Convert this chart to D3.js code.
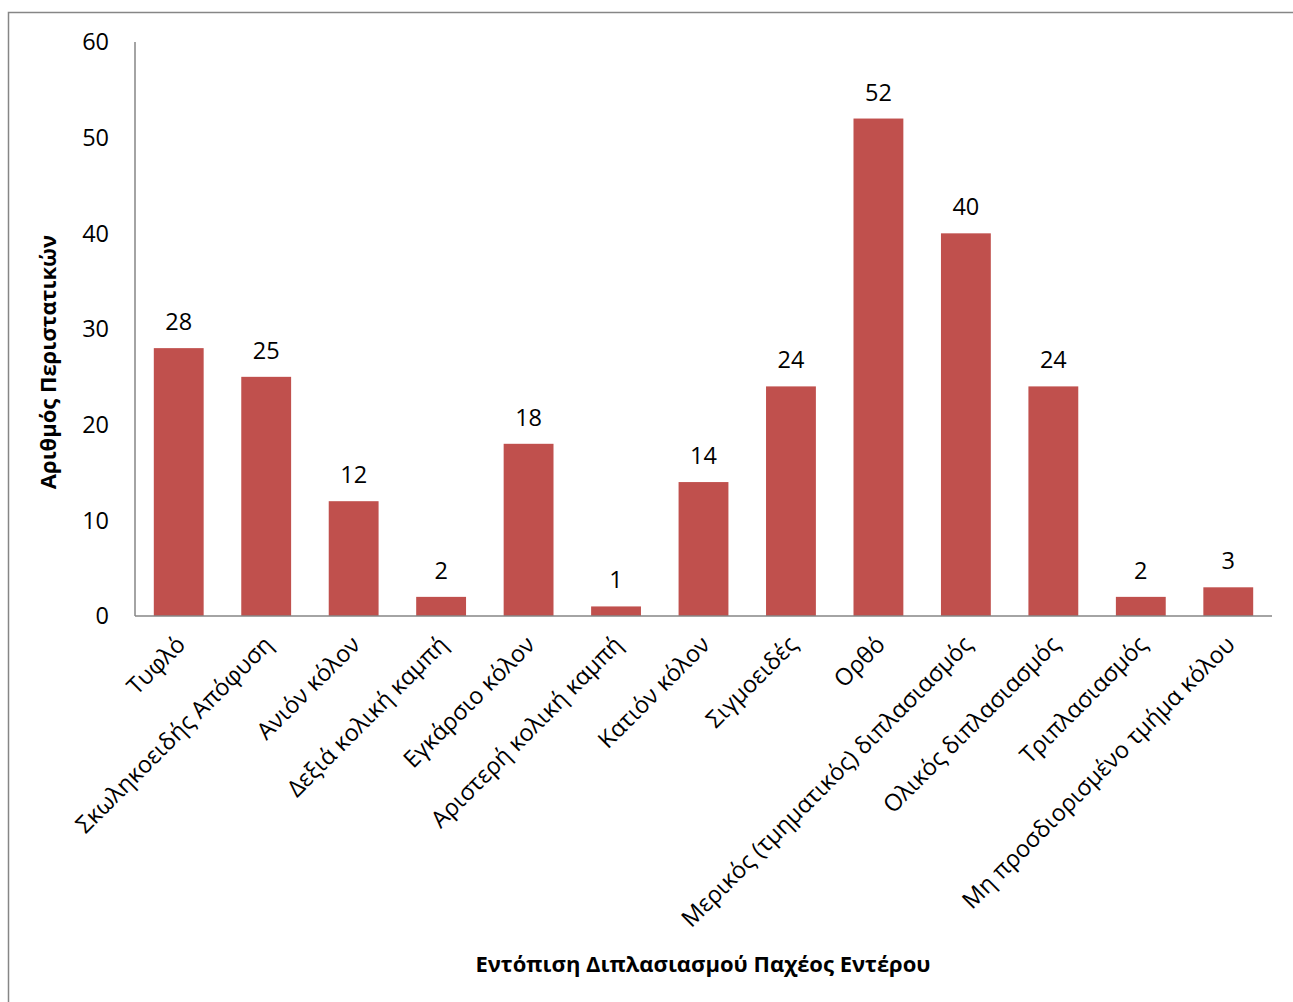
<!DOCTYPE html>
<html>
<head>
<meta charset="utf-8">
<script src="https://cdn.jsdelivr.net/npm/d3@7"></script>
<style>
  body { margin: 0; background: #fff; }
  svg text { font-family: "Open Sans", sans-serif; fill: #000; }
</style>
</head>
<body>
<div id="chart"></div>
<script>
// categories and counts
var categories = [
  "Τυφλό", "Σκωληκοειδής Απόφυση", "Ανιόν κόλον", "Δεξιά κολική καμπή",
  "Εγκάρσιο κόλον", "Αριστερή κολική καμπή", "Κατιόν κόλον", "Σιγμοειδές",
  "Ορθό", "Μερικός (τμηματικός) διπλασιασμός", "Ολικός διπλασιασμός",
  "Τριπλασιασμός", "Μη προσδιορισμένο τμήμα κόλου"
];
var counts = [28, 25, 12, 2, 18, 1, 14, 24, 52, 40, 24, 2, 3];
var yTicks = [0, 10, 20, 30, 40, 50, 60];

var W = 1293, H = 1002;
var margin = {left: 135, right: 21, top: 42, bottom: 386};
var fs = 23.5;

var svg = d3.select("#chart").append("svg")
  .attr("width", W)
  .attr("height", H);

// outer frame
svg.append("rect")
  .attr("x", 8.5).attr("y", 12.5)
  .attr("width", W + 20).attr("height", H + 20)
  .attr("fill", "none")
  .attr("stroke", "#868686")
  .attr("stroke-width", 1.5);

var x = d3.scaleBand()
  .domain(categories)
  .range([margin.left, W - margin.right])
  .paddingInner(0.43)
  .paddingOuter(0.215);

var y = d3.scaleLinear()
  .domain([0, 60])
  .range([H - margin.bottom, margin.top]);

var y0 = y(0);

// bars
svg.selectAll("rect.bar")
  .data(counts)
  .enter().append("rect")
  .attr("class", "bar")
  .attr("x", function(d, i){ return x(categories[i]); })
  .attr("y", function(d){ return y(d); })
  .attr("width", x.bandwidth())
  .attr("height", function(d){ return y0 - y(d); })
  .attr("fill", "#c0504d");

// axes lines
svg.append("line")
  .attr("x1", margin.left).attr("x2", margin.left)
  .attr("y1", margin.top).attr("y2", y0)
  .attr("stroke", "#868686").attr("stroke-width", 1.5);
svg.append("line")
  .attr("x1", margin.left).attr("x2", W - margin.right)
  .attr("y1", y0).attr("y2", y0)
  .attr("stroke", "#868686").attr("stroke-width", 1.5);

// y tick labels
svg.selectAll("text.ytick")
  .data(yTicks)
  .enter().append("text")
  .attr("class", "ytick")
  .attr("x", 109)
  .attr("y", function(d){ return y(d); })
  .attr("dy", "0.35em")
  .attr("text-anchor", "end")
  .attr("font-size", fs)
  .text(function(d){ return d; });

// value labels
svg.selectAll("text.val")
  .data(counts)
  .enter().append("text")
  .attr("class", "val")
  .attr("x", function(d, i){ return x(categories[i]) + x.bandwidth() / 2; })
  .attr("y", function(d){ return y(d) - 18; })
  .attr("text-anchor", "middle")
  .attr("font-size", fs)
  .text(function(d){ return d; });

// category labels, rotated
svg.selectAll("text.cat")
  .data(categories)
  .enter().append("text")
  .attr("class", "cat")
  .attr("transform", function(d){
    var cx = x(d) + x.bandwidth() / 2;
    return "translate(" + (cx + 8) + "," + (y0 + 30) + ") rotate(-45)";
  })
  .attr("text-anchor", "end")
  .attr("font-size", fs)
  .text(function(d){ return d; });

// axis titles
svg.append("text")
  .attr("transform", "translate(56,362) rotate(-90)")
  .attr("text-anchor", "middle")
  .attr("font-size", 22)
  .attr("font-weight", "bold")
  .text("Αριθμός Περιστατικών");

svg.append("text")
  .attr("x", 703)
  .attr("y", 972)
  .attr("text-anchor", "middle")
  .attr("font-size", 22)
  .attr("font-weight", "bold")
  .text("Εντόπιση Διπλασιασμού Παχέος Εντέρου");
</script>
</body>
</html>
